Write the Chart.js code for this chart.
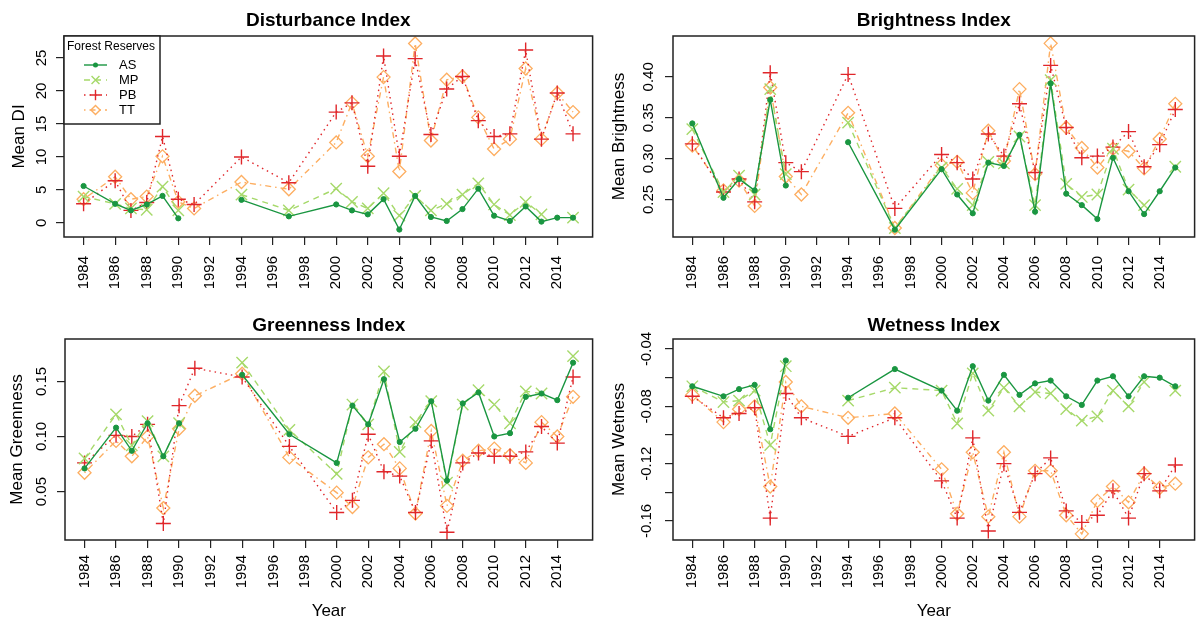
<!DOCTYPE html>
<html>
<head>
<meta charset="utf-8">
<script src="https://cdn.jsdelivr.net/npm/chart.js@4.4.1/dist/chart.umd.min.js"></script>
<style>
  body { margin: 0; background: #fff; }
  #wrap { position: relative; width: 1204px; height: 624px; }
  .panel { position: absolute; width: 602px; height: 312px; }
</style>
</head>
<body>
<div id="wrap">
  <div class="panel" style="left:0;top:0"><canvas id="di" width="602" height="312"></canvas></div>
  <div class="panel" style="left:602px;top:0"><canvas id="bri" width="602" height="312"></canvas></div>
  <div class="panel" style="left:0;top:312px"><canvas id="gre" width="602" height="312"></canvas></div>
  <div class="panel" style="left:602px;top:312px"><canvas id="wet" width="602" height="312"></canvas></div>
</div>
<script>
// survey years (1991 has no AS / MP values)
var years = [1984, 1986, 1987, 1988, 1989, 1990, 1991, 1994, 1997, 2000, 2001, 2002, 2003,
             2004, 2005, 2006, 2007, 2008, 2009, 2010, 2011, 2012, 2013, 2014, 2015];
var yearTicks = [1984, 1986, 1988, 1990, 1992, 1994, 1996, 1998, 2000, 2002, 2004, 2006, 2008, 2010, 2012, 2014];

// Disturbance Index
var diAS = [5.6, 2.9, 1.9, 2.8, 4.1, 0.7, null, 3.5, 1.0, 2.8, 1.9, 1.3, 3.6, -1.0, 4.1, 0.9, 0.3, 2.1, 5.2, 1.1, 0.3, 2.5, 0.2, 0.8, 0.8];
var diMP = [4.0, 2.9, 2.2, 2.0, 5.5, 1.9, null, 4.3, 1.9, 5.2, 3.2, 2.2, 4.5, 1.1, 4.1, 1.9, 2.9, 4.3, 6.0, 2.8, 1.2, 3.2, 1.3, null, 0.8];
var diPB = [2.9, 6.4, 1.9, 3.1, 13.1, 3.6, 2.8, 10.0, 6.1, 16.8, 18.2, 8.6, 25.3, 10.1, 24.9, 13.4, 20.3, 22.2, 15.5, 13.1, 13.5, 26.2, 12.7, 19.7, 13.5];
var diTT = [3.6, 7.0, 3.6, 4.0, 10.1, 3.2, 2.2, 6.2, 5.1, 12.2, 18.2, 10.1, 22.1, 7.8, 27.2, 12.5, 21.7, 22.2, 16.0, 11.2, 12.7, 23.4, 12.7, 19.7, 16.8];
var diTicks = [0, 5, 10, 15, 20, 25];
var diTickLabels = ['0', '5', '10', '15', '20', '25'];

// Brightness Index
var briAS = [0.343, 0.252, 0.275, 0.261, 0.372, 0.267, null, 0.320, 0.213, 0.287, 0.256, 0.233, 0.295, 0.291, 0.329, 0.235, 0.392, 0.257, 0.243, 0.226, 0.301, 0.260, 0.232, 0.260, 0.289];
var briMP = [0.336, 0.259, 0.279, 0.256, 0.385, 0.281, null, 0.344, 0.215, 0.289, 0.263, 0.243, 0.296, 0.294, 0.327, 0.243, 0.396, 0.269, 0.253, 0.256, 0.312, 0.262, 0.243, null, 0.290];
var briPB = [0.318, 0.259, 0.275, 0.247, 0.405, 0.295, 0.284, 0.403, 0.239, 0.305, 0.295, 0.275, 0.330, 0.303, 0.367, 0.283, 0.414, 0.338, 0.301, 0.303, 0.314, 0.333, 0.290, 0.317, 0.360];
var briTT = [0.316, 0.261, 0.273, 0.242, 0.387, 0.278, 0.256, 0.356, 0.215, 0.292, 0.296, 0.258, 0.334, 0.297, 0.385, 0.281, 0.441, 0.338, 0.313, 0.289, 0.312, 0.309, 0.288, 0.324, 0.367];
var briTicks = [0.25, 0.30, 0.35, 0.40];
var briTickLabels = ['0.25', '0.30', '0.35', '0.40'];

// Greenness Index
var greAS = [0.071, 0.108, 0.087, 0.112, 0.082, 0.112, null, 0.156, 0.102, 0.076, 0.128, 0.111, 0.152, 0.095, 0.107, 0.132, 0.060, 0.130, 0.140, 0.100, 0.103, 0.136, 0.139, 0.133, 0.167];
var greMP = [0.080, 0.120, 0.092, 0.114, 0.082, 0.112, null, 0.167, 0.106, 0.066, 0.129, 0.111, 0.159, 0.086, 0.113, 0.132, 0.058, 0.129, 0.142, 0.129, 0.112, 0.141, 0.139, null, 0.173];
var grePB = [0.076, 0.101, 0.100, 0.111, 0.021, 0.128, 0.162, 0.154, 0.091, 0.031, 0.042, 0.102, 0.068, 0.064, 0.031, 0.096, 0.013, 0.076, 0.085, 0.082, 0.082, 0.086, 0.109, 0.094, 0.154];
var greTT = [0.067, 0.096, 0.082, 0.100, 0.035, 0.107, 0.137, 0.157, 0.081, 0.049, 0.036, 0.081, 0.093, 0.071, 0.030, 0.105, 0.037, 0.078, 0.087, 0.089, 0.083, 0.076, 0.113, 0.100, 0.136];
var greTicks = [0.05, 0.10, 0.15];
var greTickLabels = ['0.05', '0.10', '0.15'];

// Wetness Index
var wetAS = [-0.066, -0.073, -0.068, -0.065, -0.096, -0.048, null, -0.074, -0.054, -0.069, -0.083, -0.052, -0.076, -0.058, -0.072, -0.064, -0.062, -0.073, -0.079, -0.062, -0.059, -0.073, -0.059, -0.060, -0.066];
var wetMP = [-0.066, -0.077, -0.076, -0.069, -0.107, -0.052, null, -0.076, -0.067, -0.069, -0.092, -0.057, -0.083, -0.067, -0.080, -0.070, -0.071, -0.082, -0.090, -0.087, -0.069, -0.080, -0.063, null, -0.069];
var wetPB = [-0.073, -0.088, -0.085, -0.081, -0.158, -0.071, -0.088, -0.101, -0.088, -0.132, -0.158, -0.102, -0.167, -0.120, -0.154, -0.127, -0.116, -0.153, -0.161, -0.156, -0.139, -0.158, -0.127, -0.139, -0.121];
var wetTT = [-0.072, -0.091, -0.082, -0.080, -0.136, -0.063, -0.080, -0.088, -0.085, -0.124, -0.155, -0.112, -0.157, -0.112, -0.157, -0.125, -0.125, -0.156, -0.169, -0.146, -0.136, -0.147, -0.127, -0.137, -0.134];
var wetTicks = [-0.16, -0.14, -0.12, -0.10, -0.08, -0.06, -0.04];
var wetTickLabels = ['-0.16', '', '-0.12', '', '-0.08', '', '-0.04'];

var reserves = ['AS', 'MP', 'PB', 'TT'];

// look of each reserve (R type="b" with pch 20 / 4 / 3 / 5)
var looks = {
  AS: { color: '#1a9641', dash: [], point: 'circle', radius: 2.6, pw: 1, filled: true },
  MP: { color: '#a6d96a', dash: [6, 5], point: 'crossRot', radius: 8, pw: 1.4, filled: false },
  PB: { color: '#e0262a', dash: [1.5, 4], point: 'cross', radius: 7.5, pw: 1.4, filled: false },
  TT: { color: '#fdae61', dash: [1.5, 4, 6, 4], point: 'rectRot', radius: 6.5, pw: 1.3, filled: false }
};

Chart.defaults.font.family = "'Liberation Sans', Arial, Helvetica, sans-serif";
Chart.defaults.color = '#000';

var boxPlugin = {
  id: 'plotBox',
  afterDraw: function(chart) {
    var a = chart.chartArea, ctx = chart.ctx;
    ctx.save();
    ctx.strokeStyle = '#222';
    ctx.lineWidth = 1.5;
    ctx.strokeRect(a.left, a.top, a.right - a.left, a.bottom - a.top);
    ctx.restore();
  }
};

var legendPlugin = {
  id: 'reserveLegend',
  afterDraw: function(chart, args, opts) {
    if (!opts.show) return;
    var a = chart.chartArea, ctx = chart.ctx;
    var x0 = a.left, y0 = a.top;
    ctx.save();
    ctx.fillStyle = '#fff';
    ctx.fillRect(x0, y0, 96, 88);
    ctx.strokeStyle = '#222';
    ctx.lineWidth = 1.5;
    ctx.strokeRect(x0, y0, 96, 88);
    ctx.fillStyle = '#000';
    ctx.font = "12px 'Liberation Sans', Arial, sans-serif";
    ctx.textBaseline = 'middle';
    ctx.textAlign = 'left';
    ctx.fillText('Forest Reserves', x0 + 3, y0 + 11);
    chart.data.datasets.forEach(function(ds, i) {
      var lk = looks[ds.label];
      var yy = y0 + 29 + i * 15;
      ctx.save();
      ctx.strokeStyle = lk.color;
      ctx.lineWidth = 1.4;
      ctx.setLineDash(lk.dash);
      ctx.beginPath();
      ctx.moveTo(x0 + 20, yy);
      ctx.lineTo(x0 + 43, yy);
      ctx.stroke();
      ctx.setLineDash([]);
      ctx.fillStyle = lk.filled ? lk.color : 'rgba(0,0,0,0)';
      Chart.helpers.drawPoint(ctx, { pointStyle: lk.point, radius: lk.radius * 0.7, rotation: 0, borderWidth: lk.pw }, x0 + 31.5, yy);
      ctx.restore();
      ctx.fillStyle = '#000';
      ctx.font = "13px 'Liberation Sans', Arial, sans-serif";
      ctx.fillText(ds.label, x0 + 55, yy);
    });
    ctx.restore();
  }
};

function makeDatasets(series) {
  return reserves.map(function(name, k) {
    var lk = looks[name];
    return {
      label: name,
      data: years.map(function(yr, i) { return { x: yr, y: series[k][i] }; }),
      borderColor: lk.color,
      backgroundColor: lk.color,
      borderWidth: 1.4,
      borderDash: lk.dash,
      pointStyle: lk.point,
      pointRadius: lk.radius,
      pointBorderWidth: lk.pw,
      pointBorderColor: lk.color,
      pointBackgroundColor: lk.filled ? lk.color : 'rgba(0,0,0,0)',
      tension: 0,
      spanGaps: false,
      fill: false
    };
  });
}

function makeChart(id, p) {
  var xPad = (years[years.length - 1] - years[0]) * 0.04;
  return new Chart(id, {
    type: 'line',
    data: { datasets: makeDatasets(p.series) },
    plugins: [boxPlugin, legendPlugin],
    options: {
      responsive: false,
      animation: false,
      devicePixelRatio: 1,
      layout: { padding: { left: 0, right: p.rightPad, top: 0, bottom: 0 } },
      plugins: {
        legend: { display: false },
        tooltip: { enabled: false },
        reserveLegend: { show: !!p.legend },
        title: {
          display: true,
          text: p.title,
          fullSize: false,
          color: '#000',
          font: { size: 19, weight: 'bold', lineHeight: 1.2 },
          padding: p.titlePad
        }
      },
      scales: {
        x: {
          type: 'linear',
          min: years[0] - xPad,
          max: years[years.length - 1] + xPad,
          afterBuildTicks: function(s) { s.ticks = yearTicks.map(function(v) { return { value: v }; }); },
          afterFit: function(s) { s.height = p.xHeight; },
          ticks: {
            autoSkip: false, minRotation: 90, maxRotation: 90, padding: p.xTickPad,
            font: { size: 15 },
            callback: function(v) { return String(v); }
          },
          grid: { display: true, drawOnChartArea: false, drawTicks: true, tickLength: 8, color: '#222', lineWidth: 1.2 },
          border: { display: false },
          title: { display: !!p.xTitle, text: 'Year', font: { size: 17 }, padding: { top: 0, bottom: 2 } }
        },
        y: {
          type: 'linear',
          min: p.yMin,
          max: p.yMax,
          afterBuildTicks: function(s) { s.ticks = p.ticks.map(function(v) { return { value: v }; }); },
          afterFit: function(s) { s.width = p.yWidth; },
          ticks: {
            autoSkip: false, minRotation: 90, maxRotation: 90, crossAlign: 'center',
            padding: p.tickPad, font: { size: 15 },
            callback: function(v, i) { return p.tickLabels[i]; }
          },
          grid: { display: true, drawOnChartArea: false, drawTicks: true, tickLength: 8, color: '#222', lineWidth: 1.2 },
          border: { display: false },
          title: { display: true, text: p.yTitle, font: { size: 17 }, padding: { top: p.yTitlePad, bottom: 0 } }
        }
      }
    }
  });
}

makeChart('di', {
  title: 'Disturbance Index', yTitle: 'Mean DI', legend: true,
  series: [diAS, diMP, diPB, diTT],
  yMin: -2.13, yMax: 28.33, ticks: diTicks, tickLabels: diTickLabels,
  titlePad: { top: 9, bottom: 4.2 }, xHeight: 75, yWidth: 64, tickPad: 6, yTitlePad: 9,
  xTickPad: 11, rightPad: 5
});
makeChart('bri', {
  title: 'Brightness Index', yTitle: 'Mean Brightness',
  series: [briAS, briMP, briPB, briTT],
  yMin: 0.204, yMax: 0.450, ticks: briTicks, tickLabels: briTickLabels,
  titlePad: { top: 9, bottom: 4.2 }, xHeight: 75, yWidth: 71, tickPad: 2, yTitlePad: 7,
  xTickPad: 11, rightPad: 3
});
makeChart('gre', {
  title: 'Greenness Index', yTitle: 'Mean Greenness', xTitle: true,
  series: [greAS, greMP, grePB, greTT],
  yMin: 0.006, yMax: 0.1885, ticks: greTicks, tickLabels: greTickLabels,
  titlePad: { top: 2.6, bottom: 1.6 }, xHeight: 84, yWidth: 65, tickPad: 1, yTitlePad: 7,
  xTickPad: 7, rightPad: 5
});
makeChart('wet', {
  title: 'Wetness Index', yTitle: 'Mean Wetness', xTitle: true,
  series: [wetAS, wetMP, wetPB, wetTT],
  yMin: -0.1733, yMax: -0.033, ticks: wetTicks, tickLabels: wetTickLabels,
  titlePad: { top: 2.6, bottom: 1.6 }, xHeight: 84, yWidth: 71, tickPad: 1, yTitlePad: 7,
  xTickPad: 7, rightPad: 3
});
</script>
</body>
</html>
